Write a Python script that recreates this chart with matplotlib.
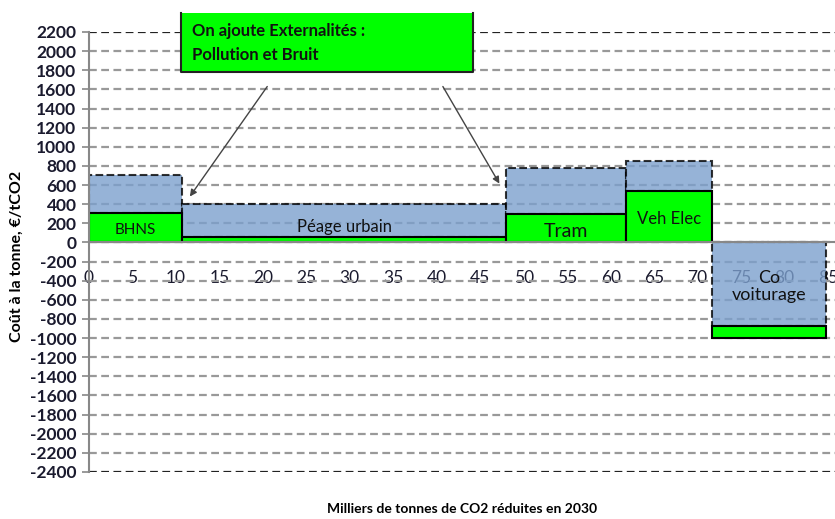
import matplotlib
matplotlib.use("Agg")
import matplotlib.pyplot as plt
from matplotlib.patches import Rectangle
from matplotlib.lines import Line2D

plt.rcParams['font.family'] = ['Lato', 'DejaVu Sans']
plt.rcParams['axes.unicode_minus'] = False

# data
projects = ["BHNS", "Péage urbain", "Tram", "Veh Elec", "Co\nvoiturage"]
x_start = [0, 10.7, 48.0, 61.8, 71.7]        # milliers de tonnes (cumulé)
widths = [10.7, 37.3, 13.8, 9.9, 13.1]
cost_base = [310, 60, 300, 540, -130]       # €/tCO2, sans externalités (vert)
cost_ext = [390, 340, 480, 310, -870]       # supplément externalités (bleu)
label_y = [125, 165, 115, 250, -460]
label_size = [11, 12, 14, 12, 13]

xticks = list(range(0, 90, 5))
yticks = list(range(-2400, 2201, 200))

green = '#00FF00'
blue = '#7CA0CD'

fig = plt.figure(figsize=(8.35, 5.19), dpi=100)
ax = fig.add_axes([89 / 835, 1 - 472 / 519, 1 - 89 / 835, (472 - 32) / 519])
ax.set_xlim(0, 85.8)
ax.set_ylim(-2400, 2200)

for i in range(len(projects)):
    if cost_base[i] >= 0:
        g_bottom, b_bottom = 0, cost_base[i]
    else:
        g_bottom, b_bottom = cost_ext[i], 0
    ax.bar(x_start[i], cost_ext[i], width=widths[i], bottom=b_bottom, align='edge',
           color=blue, alpha=0.8, edgecolor='black', linestyle='--', linewidth=1.5, zorder=1)
    ax.bar(x_start[i], cost_base[i], width=widths[i], bottom=g_bottom, align='edge',
           color=green, edgecolor='black', linewidth=1.5, zorder=2)
    ax.text(x_start[i] + widths[i] / 2, label_y[i], projects[i], ha='center', va='center',
            fontsize=label_size[i], color='#111111', zorder=3, linespacing=1.1)

# axes & grid
ax.set_axisbelow(True)
ax.set_yticks(yticks)
ax.set_xticks(xticks)
ax.grid(axis='y', color='#999999', linestyle=(0, (3.5, 2)), linewidth=1.6)
ticks = ax.yaxis.get_major_ticks()
for t in (ticks[0], ticks[-1]):
    t.gridline.set_color('#222222')

for s in ('top', 'right'):
    ax.spines[s].set_visible(False)
ax.spines['bottom'].set_position(('data', 0))
ax.spines['bottom'].set_color('#888888')
ax.spines['bottom'].set_linewidth(1.5)
ax.spines['left'].set_color('#888888')
ax.spines['left'].set_linewidth(1.5)

ax.tick_params(axis='y', direction='out', length=5, color='#888888', width=1.2,
               labelsize=12.5, labelcolor='#1a1a2e', pad=4)
ax.tick_params(axis='x', length=0, labelsize=12.5, labelcolor='#1a1a2e', pad=20)
for lab in ax.get_yticklabels():
    lab.set_fontweight('bold')
for lab in ax.get_xticklabels():
    lab.set_bbox(dict(facecolor='white', edgecolor='none', pad=1))

ax.set_ylabel("Coût à la tonne, €/tCO2", fontsize=11.5, fontweight='bold')
ax.yaxis.set_label_coords(-0.088, 0.489)
ax.set_xlabel("Milliers de tonnes de CO2 réduites en 2030", fontsize=10, fontweight='bold')
ax.xaxis.set_label_coords(0.5, -0.07)

# annotation box
bx0, bx1, by0, by1 = 181 / 835, 473 / 835, 1 - 72 / 519, 1 - 13 / 519
fig.add_artist(Rectangle((bx0, by0), bx1 - bx0, by1 - by0, transform=fig.transFigure,
                         facecolor=green, edgecolor='none', zorder=5))
fig.add_artist(Line2D([bx0, bx0, bx1, bx1], [by1, by0, by0, by1], transform=fig.transFigure,
                      color='#222222', linewidth=1.5, zorder=6))
fig.text(192 / 835, 1 - 31 / 519, "On ajoute Externalités :", fontsize=12, fontweight='bold',
         va='center', ha='left', color='#111111', zorder=7)
fig.text(192 / 835, 1 - 55 / 519, "Pollution et Bruit", fontsize=12, fontweight='bold',
         va='center', ha='left', color='#111111', zorder=7)

arrow = dict(arrowstyle='-|>', color='#444444', lw=1.0, mutation_scale=10, shrinkA=0, shrinkB=0)
ax.annotate('', xy=(11.6, 480), xytext=(20.5, 1630), arrowprops=arrow)
ax.annotate('', xy=(47.2, 615), xytext=(40.7, 1630), arrowprops=arrow)

fig.savefig("out.png", dpi=100)
